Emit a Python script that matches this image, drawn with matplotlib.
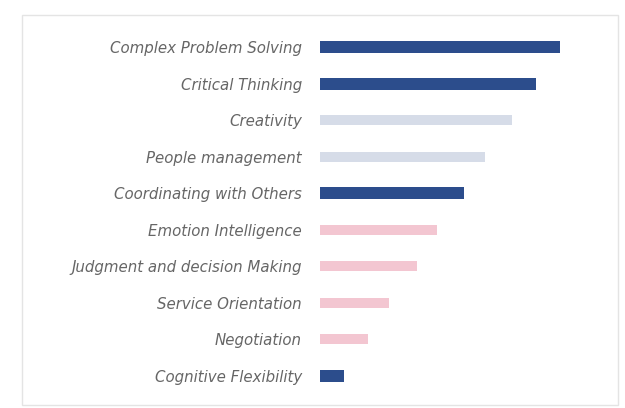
import matplotlib
matplotlib.use("Agg")
import matplotlib.pyplot as plt
from matplotlib.patches import Rectangle

# --- Data (arbitrary units) ---
skills = ["Complex Problem Solving", "Critical Thinking", "Creativity",
          "People management", "Coordinating with Others", "Emotion Intelligence",
          "Judgment and decision Making", "Service Orientation", "Negotiation",
          "Cognitive Flexibility"]
scores = [240, 216, 192, 165, 144, 117, 97, 69, 48, 24]
groups = ["blue", "blue", "grey", "grey", "blue", "pink", "pink", "pink", "pink", "blue"]

palette = {"blue": "#2c4d8c", "grey": "#d6dce8", "pink": "#f3c6d1"}
heights = {"blue": 0.34, "grey": 0.28, "pink": 0.28}

W, H = 625, 408
fig = plt.figure(figsize=(W / 100, H / 100), dpi=100)
fig.patch.set_facecolor("white")

# card outline
fig.patches.append(Rectangle((22 / W, 3 / H), 596 / W, 390 / H,
                             transform=fig.transFigure, facecolor="none",
                             edgecolor="#e4e4e4", linewidth=1.0, zorder=-1))

ax = fig.add_axes([320 / W, 14 / H, 290 / W, 365 / H])
ax.set_facecolor("none")

ypos = list(range(len(skills)))
for y, v, g in zip(ypos, scores, groups):
    ax.barh(y, v, height=heights[g], color=palette[g])

ax.set_xlim(0, 290)
ax.set_ylim(len(skills) - 0.5, -0.5)
ax.set_yticks(ypos)
ax.set_yticklabels(skills, fontsize=10.8, style="italic", color="#666666",
                   family=["DejaVu Sans"])
ax.tick_params(axis="y", length=0, pad=13)
ax.set_xticks([])
for s in ax.spines.values():
    s.set_visible(False)

fig.savefig("out.png", dpi=100)
